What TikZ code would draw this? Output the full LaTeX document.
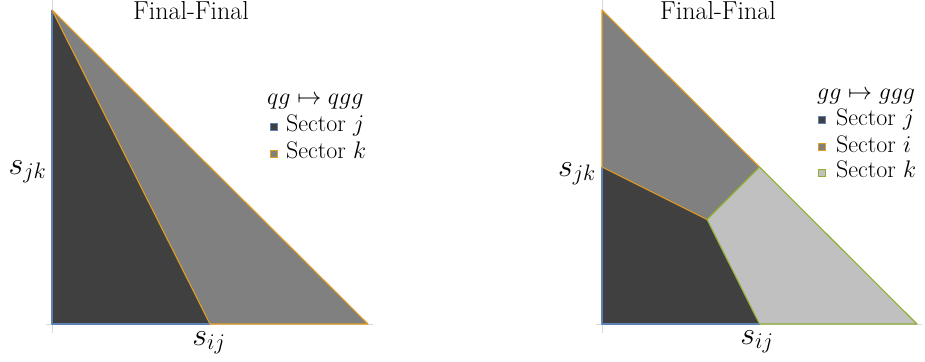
\RequirePackage{fix-cm}
\documentclass[tikz,border=0pt]{standalone}
\usepackage{fontspec}
\definecolor{cj}{HTML}{5E81B5}
\definecolor{ci}{HTML}{E19C24}
\definecolor{ck}{HTML}{8FB032}
\definecolor{dk}{HTML}{404040}
\definecolor{md}{HTML}{808080}
\definecolor{lt}{HTML}{C0C0C0}
\definecolor{ax}{HTML}{D8D8D8}
\begin{document}
\begin{tikzpicture}[x=1pt,y=-1pt,
  axisline/.style={ax,line width=0.8pt},
  edge/.style={line width=1.1pt,line join=round},
  titletext/.style={font=\fontsize{26}{30}\selectfont,inner sep=0pt,anchor=base},
  axlabel/.style={font=\fontsize{32}{36}\selectfont,inner sep=0pt,anchor=base},
  legtext/.style={font=\fontsize{24}{28}\selectfont,inner sep=0pt,anchor=base west},
  legbox/.style={minimum size=7pt,inner sep=0pt,line width=0.9pt,draw=#1}]
\useasboundingbox (0,0) rectangle (925,361);
% ---------------- left panel ----------------
\coordinate (LO) at (52,324);
\coordinate (LT) at (52,10);
\coordinate (LR) at (368,324);
\coordinate (LM) at (210,324);
\coordinate (LAy1) at (52,0);
\coordinate (LAy2) at (52,333);
\coordinate (LAx1) at (46,324);
\coordinate (LAx2) at (373,324);
\draw[axisline] (LAy1) -- (LAy2);
\draw[axisline] (LAx1) -- (LAx2);
\fill[dk] (LO) -- (LT) -- (LM) -- cycle;
\fill[md] (LT) -- (LR) -- (LM) -- cycle;
\draw[edge,cj] (LM) -- (LO) -- (LT);
\draw[edge,ci] (LT) -- (LM);
\draw[edge,ci] (LT) -- (LR) -- (LM);
\node[titletext] (t1) at (191,19.5) {Final-Final};
\node[axlabel] (sjk1) at (27.5,174) {$s_{jk}$};
\node[axlabel] (sij1) at (209,345) {$s_{ij}$};
\node[legtext] (h1) at (267,104) {$qg\mapsto qgg$};
\node[legbox=cj,fill=dk] (b1j) at (273.5,126.5) {};
\node[legtext] (l1j) at (286,131) {Sector $j$};
\node[legbox=ci,fill=md] (b1k) at (273.5,153.5) {};
\node[legtext] (l1k) at (286,158) {Sector $k$};
% ---------------- right panel ----------------
\coordinate (RO) at (602,324);
\coordinate (RT) at (602,10);
\coordinate (RR) at (917,324);
\coordinate (RL) at (602,167);
\coordinate (RH) at (759.5,167);
\coordinate (RC) at (707,219.5);
\coordinate (RB) at (759.5,324);
\coordinate (RAy1) at (602,0);
\coordinate (RAy2) at (602,333);
\coordinate (RAx1) at (596,324);
\coordinate (RAx2) at (922,324);
\draw[axisline] (RAy1) -- (RAy2);
\draw[axisline] (RAx1) -- (RAx2);
\fill[dk] (RO) -- (RL) -- (RC) -- (RB) -- cycle;
\fill[md] (RL) -- (RT) -- (RH) -- (RC) -- cycle;
\fill[lt] (RC) -- (RH) -- (RR) -- (RB) -- cycle;
\draw[edge,cj] (RB) -- (RO) -- (RL);
\draw[edge,ci] (RL) -- (RT) -- (RH);
\draw[edge,ci] (RL) -- (RC);
\draw[edge,ck] (RH) -- (RC) -- (RB);
\draw[edge,ck] (RH) -- (RR) -- (RB);
\node[titletext] (t2) at (718,19.5) {Final-Final};
\node[axlabel] (sjk2) at (577,176) {$s_{jk}$};
\node[axlabel] (sij2) at (757,344) {$s_{ij}$};
\node[legtext] (h2) at (817,99) {$gg\mapsto ggg$};
\node[legbox=cj,fill=dk] (b2j) at (822,120) {};
\node[legtext] (l2j) at (836,125) {Sector $j$};
\node[legbox=ci,fill=md] (b2i) at (822,147) {};
\node[legtext] (l2i) at (836,152) {Sector $i$};
\node[legbox=ck,fill=lt] (b2k) at (822,172.5) {};
\node[legtext] (l2k) at (836,177) {Sector $k$};
\end{tikzpicture}
\end{document}
